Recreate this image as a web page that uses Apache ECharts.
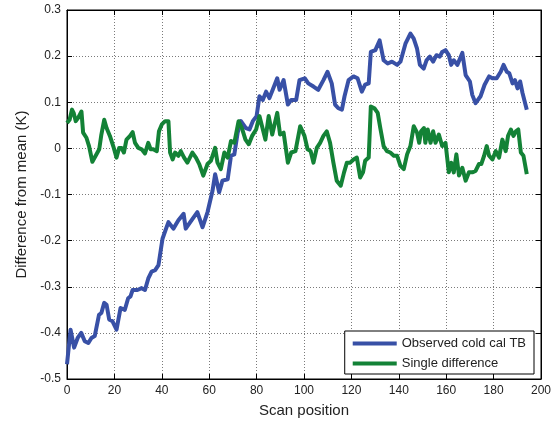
<!DOCTYPE html>
<html><head><meta charset="utf-8">
<script src="https://cdn.jsdelivr.net/npm/echarts@6/dist/echarts.min.js"></script>
<style>html,body{margin:0;padding:0;background:#fff}#c{width:555px;height:426px}</style>
</head><body><div id="c"></div>
<script>
var yTicks = [-0.5,-0.4,-0.3,-0.2,-0.1,0,0.1,0.2,0.3];
var xTicks = [0,20,40,60,80,100,120,140,160,180,200];

var blueScan = [0,1.5,3,4.5,6,7.5,9,10.3,11.7,13.5,14.5,15.7,16.7,17.8,19.2,20.9,22.6,24.4,25.8,26.8,27.7,29.7,31.5,32.9,34.3,35.7,37.2,38.6,40.3,41.8,42.8,44.9,47,49.2,50.1,52,55,57.2,59.3,61.4,62.5,64.2,65.6,67.8,69.2,70.6,72,73.4,75.5,77,78.4,80,81.2,82.6,84,85.4,86.8,88.7,89.7,91.4,93.2,94.6,96.7,98.1,100.3,101.8,104,106,108.2,109.9,111.7,113.1,114.5,116,117.1,118.8,120.9,122.6,124.4,125.8,127.3,128.2,130.1,131.9,133.6,135.3,137.1,139.3,140.7,142.8,144.9,146.3,147.7,148.9,150.5,151.7,153.1,154.5,155.9,157.3,158.3,159.7,161.1,162.1,163.2,164.7,166.8,168.2,170,171,172.4,174.5,176.2,178.1,179.5,181.3,183,184.2,185.6,186.6,188,189,190.1,191.2,192.2,194];
var blueVal = [-0.468,-0.393,-0.432,-0.411,-0.400,-0.418,-0.422,-0.411,-0.407,-0.361,-0.357,-0.335,-0.339,-0.371,-0.375,-0.393,-0.346,-0.350,-0.325,-0.321,-0.307,-0.307,-0.303,-0.307,-0.282,-0.267,-0.264,-0.253,-0.196,-0.174,-0.160,-0.174,-0.156,-0.142,-0.174,-0.160,-0.138,-0.171,-0.138,-0.092,-0.056,-0.095,-0.070,-0.067,-0.016,-0.013,0.034,0.059,0.044,0.041,0.059,0.070,0.113,0.105,0.123,0.109,0.127,0.152,0.127,0.148,0.095,0.105,0.105,0.148,0.152,0.141,0.134,0.127,0.148,0.166,0.141,0.095,0.087,0.084,0.113,0.148,0.156,0.152,0.123,0.138,0.141,0.209,0.213,0.234,0.191,0.184,0.188,0.181,0.188,0.227,0.249,0.238,0.216,0.181,0.173,0.191,0.199,0.188,0.202,0.199,0.209,0.213,0.202,0.181,0.191,0.181,0.207,0.159,0.145,0.116,0.098,0.113,0.138,0.156,0.152,0.152,0.166,0.181,0.166,0.163,0.141,0.148,0.130,0.145,0.120,0.084];

var greenScan = [0,1.1,2.1,2.8,3.7,4.7,6.1,6.8,8.2,9.3,10.7,12.1,13.6,14.5,15.7,16.7,18.1,19.5,20.9,22,23,24,25.1,26.6,27.7,28.7,30.1,31.5,32.9,34.3,35.3,36.4,37.9,38.8,40,41.4,42.8,43.5,44.6,45.6,47,48,49.4,50.8,52.9,54.4,55.8,57.5,59.3,60.7,62.5,63.5,64.9,66.4,67.8,69.2,70.6,72.4,73.8,75.3,76.7,78.1,79.8,81.2,82.3,83.7,85.1,86.6,88.7,89.9,91.4,93.2,94.6,96.4,98.4,100.2,101.5,102.8,104,105.4,106.8,108.2,109.6,111,112.4,113.8,115.5,116.9,118.1,119.5,120.9,122.3,123.7,124.9,125.8,127.3,128.2,129.7,131.1,132.2,133.6,135,136.4,137.9,139.3,140.7,142.1,143.5,144.9,146.3,147.7,148.6,149.4,150.6,151.2,152.2,153.4,154.5,155.5,156.9,158.3,159.7,161.1,162.1,163.2,164.3,165.4,166.8,168.2,169.6,171,172.4,173.8,174.8,176,177.1,178.1,179.5,180.9,182.3,183.7,185.1,186.1,187.3,188.4,189.4,190.4,191.5,192.6,194];
var greenVal = [0.055,0.062,0.084,0.077,0.059,0.066,0.080,0.034,0.023,0.005,-0.029,-0.016,-0.002,0.030,0.062,0.044,0.027,0.005,-0.020,0.001,0.001,-0.009,0.019,0.027,0.035,0.012,0.001,-0.002,-0.011,0.012,-0.002,-0.002,-0.006,0.037,0.052,0.059,0.059,-0.009,-0.024,-0.009,-0.016,-0.006,-0.020,-0.031,-0.009,-0.020,-0.034,-0.059,-0.034,-0.027,0.001,-0.031,-0.045,-0.009,-0.020,0.016,0.012,0.059,0.044,0.019,0.009,0.027,0.041,0.070,0.048,0.019,0.070,0.030,0.077,0.030,0.034,-0.031,-0.009,-0.006,0.048,0.027,-0.002,-0.006,-0.031,0.001,0.012,0.027,0.037,0.012,-0.031,-0.070,-0.081,-0.052,-0.031,-0.031,-0.024,-0.020,-0.063,-0.052,-0.027,-0.020,0.091,0.087,0.077,0.044,0.005,-0.006,-0.009,-0.016,-0.016,-0.038,-0.045,-0.013,0.005,0.048,0.034,0.012,0.037,0.044,0.012,0.041,0.012,0.037,0.012,0.030,0.005,0.012,-0.052,-0.031,-0.052,-0.013,-0.059,-0.042,-0.070,-0.052,-0.052,-0.049,-0.034,-0.034,-0.016,0.005,-0.016,-0.024,-0.006,-0.020,0.019,-0.006,0.027,0.041,0.027,0.037,0.041,-0.009,-0.016,-0.056];

var seriesNames = ['Observed cold cal TB', 'Single difference'];
var colors = ['#3850a6', '#138236'];

function pairs(xs, ys){ return xs.map(function(x,i){ return [x, ys[i]]; }); }

var chart = echarts.init(document.getElementById('c'));
var font = 'Liberation Sans, Arial, sans-serif';
var axisLine = {show:true, onZero:false, lineStyle:{color:'#000', width:1}};
var tickIn = {show:true, inside:true, length:5, lineStyle:{color:'#000'}};
var xMin = xTicks[0], xMax = xTicks[xTicks.length-1], yMin = yTicks[0], yMax = yTicks[yTicks.length-1];
var gridLine = {show:true, lineStyle:{color:'#7a7a7a', type:[1,2], width:1}};
chart.setOption({
  animation:false,
  backgroundColor:'#fff',
  grid:{left:67, right:14, top:10, bottom:47, show:true, borderColor:'#000', borderWidth:1, backgroundColor:'transparent'},
  legend:{
    orient:'vertical', right:21, bottom:52,
    data:seriesNames,
    itemWidth:44, itemHeight:4, itemGap:7,
    icon:'rect',
    padding:[6,8,4,8],
    borderColor:'#000', borderWidth:1, backgroundColor:'#fff',
    textStyle:{fontFamily:font, fontSize:13, color:'#222'}
  },
  xAxis:[{
    type:'value', min:xMin, max:xMax, interval:20, position:'bottom',
    name:'Scan position', nameLocation:'middle', nameGap:24,
    nameTextStyle:{fontFamily:font, fontSize:15, color:'#222'},
    axisLine:axisLine, axisTick:tickIn,
    axisLabel:{fontFamily:font, fontSize:12, color:'#222', margin:6},
    splitLine:gridLine
  },{
    type:'value', min:xMin, max:xMax, interval:20, position:'top',
    axisLine:axisLine, axisTick:tickIn, axisLabel:{show:false}, splitLine:{show:false}
  }],
  yAxis:[{
    type:'value', min:yMin, max:yMax, interval:0.1, position:'left',
    name:'Difference from mean (K)', nameLocation:'middle', nameGap:38,
    nameTextStyle:{fontFamily:font, fontSize:15, color:'#222'},
    axisLine:axisLine, axisTick:tickIn,
    axisLabel:{fontFamily:font, fontSize:12, color:'#222', margin:6,
      formatter:function(v){ return String(Math.round(v*10)/10); }},
    splitLine:gridLine
  },{
    type:'value', min:yMin, max:yMax, interval:0.1, position:'right',
    axisLine:axisLine, axisTick:tickIn, axisLabel:{show:false}, splitLine:{show:false}
  }],
  series:[{
    name:seriesNames[0], type:'line', data:pairs(blueScan, blueVal),
    showSymbol:false, symbol:'none', color:colors[0],
    lineStyle:{width:4, color:colors[0], join:'round'}
  },{
    name:seriesNames[1], type:'line', data:pairs(greenScan, greenVal),
    showSymbol:false, symbol:'none', color:colors[1],
    lineStyle:{width:4, color:colors[1], join:'round'}
  }]
});
</script></body></html>
